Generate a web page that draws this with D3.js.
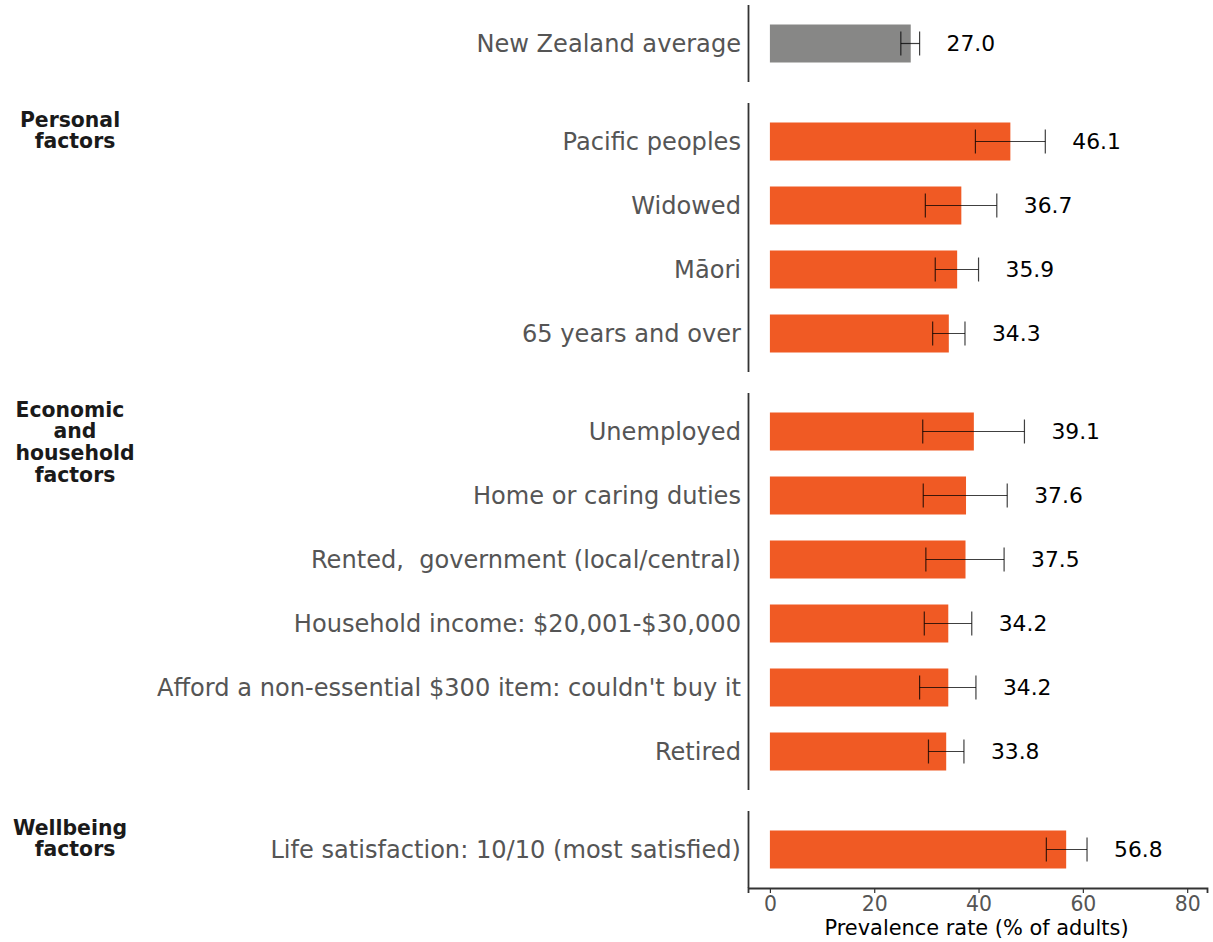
<!DOCTYPE html>
<html>
<head>
<meta charset="utf-8">
<script src="https://cdn.jsdelivr.net/npm/d3@7"></script>
<style>
  html, body { margin: 0; padding: 0; background: #ffffff; }
  svg { display: block; font-family: "DejaVu Sans", sans-serif; }
  .cat { white-space: pre; }
</style>
</head>
<body>
<svg id="chart" width="1213" height="942"></svg>
<script>
// Prevalence rates (% of adults) with 95% confidence intervals, by group
const groupNames = ["", "Personal factors", "Economic and household factors", "Wellbeing factors"];
const groupLabelLines = [[], ["Personal", "factors"], ["Economic", "and", "household", "factors"], ["Wellbeing", "factors"]];

const nzCategories = ["New Zealand average"];
const nzValues = [27.0];
const nzLow = [25.1];
const nzHigh = [28.7];

const personalCategories = ["Pacific peoples", "Widowed", "Māori", "65 years and over"];
const personalValues = [46.1, 36.7, 35.9, 34.3];
const personalLow = [39.4, 29.8, 31.7, 31.2];
const personalHigh = [52.8, 43.5, 40.0, 37.4];

const economicCategories = [
  "Unemployed",
  "Home or caring duties",
  "Rented,  government (local/central)",
  "Household income: $20,001-$30,000",
  "Afford a non-essential $300 item: couldn't buy it",
  "Retired"
];
const economicValues = [39.1, 37.6, 37.5, 34.2, 34.2, 33.8];
const economicLow = [29.3, 29.4, 29.9, 29.6, 28.7, 30.4];
const economicHigh = [48.8, 45.5, 44.9, 38.7, 39.5, 37.2];

const wellbeingCategories = ["Life satisfaction: 10/10 (most satisfied)"];
const wellbeingValues = [56.8];
const wellbeingLow = [53.0];
const wellbeingHigh = [60.8];

const xTicks = [0, 20, 40, 60, 80];

function rows(cats, vals, lo, hi) {
  return cats.map((c, i) => ({ category: c, value: vals[i], low: lo[i], high: hi[i] }));
}

const panels = [
  { name: groupNames[0], lines: groupLabelLines[0], rows: rows(nzCategories, nzValues, nzLow, nzHigh), color: "#878786" },
  { name: groupNames[1], lines: groupLabelLines[1], rows: rows(personalCategories, personalValues, personalLow, personalHigh), color: "#F05A24" },
  { name: groupNames[2], lines: groupLabelLines[2], rows: rows(economicCategories, economicValues, economicLow, economicHigh), color: "#F05A24" },
  { name: groupNames[3], lines: groupLabelLines[3], rows: rows(wellbeingCategories, wellbeingValues, wellbeingLow, wellbeingHigh), color: "#F05A24" }
];

const svg = d3.select("#chart");

const step = 64;          // row pitch
const panelPad = 6.5;     // extra space above/below each panel's rows
const panelGap = 21;      // gap between panel frames
const frameX = 748.5;
const axisY = 888;

const x = d3.scaleLinear().domain([-4.2, 83.8]).range([748, 1207]);

let cursorY = 5;
panels.forEach(p => {
  const h = p.rows.length * step + 2 * panelPad;
  p.top = cursorY;
  p.bottom = cursorY + h;
  p.y = d3.scaleBand()
    .domain(p.rows.map(r => r.category))
    .range([cursorY + panelPad, cursorY + panelPad + p.rows.length * step])
    .paddingInner(26 / 64)
    .paddingOuter(13 / 64);
  cursorY = p.bottom + panelGap;
});
// last panel sits directly on the x axis
panels[panels.length - 1].bottom = axisY;

panels.forEach(p => {
  const g = svg.append("g");

  // panel frame line on the left
  g.append("line")
    .attr("x1", frameX).attr("x2", frameX)
    .attr("y1", p.top).attr("y2", p.bottom)
    .attr("stroke", "#333").attr("stroke-width", 1.8);

  // bars
  g.selectAll("rect.bar").data(p.rows).join("rect")
    .attr("class", "bar")
    .attr("x", x(0))
    .attr("y", d => p.y(d.category))
    .attr("width", d => x(d.value) - x(0))
    .attr("height", p.y.bandwidth())
    .attr("fill", p.color);

  // confidence intervals
  const cap = 12;
  const eb = g.selectAll("g.err").data(p.rows).join("g")
    .attr("class", "err")
    .attr("stroke", "rgba(0,0,0,0.75)").attr("stroke-width", 1.2);
  eb.append("line")
    .attr("x1", d => x(d.low)).attr("x2", d => x(d.high))
    .attr("y1", d => p.y(d.category) + p.y.bandwidth() / 2)
    .attr("y2", d => p.y(d.category) + p.y.bandwidth() / 2);
  eb.append("line")
    .attr("x1", d => x(d.low)).attr("x2", d => x(d.low))
    .attr("y1", d => p.y(d.category) + p.y.bandwidth() / 2 - cap)
    .attr("y2", d => p.y(d.category) + p.y.bandwidth() / 2 + cap);
  eb.append("line")
    .attr("x1", d => x(d.high)).attr("x2", d => x(d.high))
    .attr("y1", d => p.y(d.category) + p.y.bandwidth() / 2 - cap)
    .attr("y2", d => p.y(d.category) + p.y.bandwidth() / 2 + cap);

  // value labels
  g.selectAll("text.val").data(p.rows).join("text")
    .attr("class", "val")
    .attr("x", d => x(d.high) + 27)
    .attr("y", d => p.y(d.category) + p.y.bandwidth() / 2)
    .attr("dy", "0.36em")
    .attr("font-size", 21.8)
    .attr("fill", "#000")
    .text(d => d.value.toFixed(1));

  // category labels
  g.selectAll("text.cat").data(p.rows).join("text")
    .attr("class", "cat")
    .attr("xml:space", "preserve")
    .attr("x", 741)
    .attr("y", d => p.y(d.category) + p.y.bandwidth() / 2)
    .attr("dy", "0.36em")
    .attr("text-anchor", "end")
    .attr("font-size", 24.1)
    .attr("fill", "#555555")
    .text(d => d.category);

  // group heading, one line per tspan
  if (p.lines.length) {
    const t = g.append("text")
      .attr("font-size", 20.4)
      .attr("font-weight", "bold")
      .attr("fill", "#1a1a1a")
      .attr("text-anchor", "middle");
    p.lines.forEach((ln, i) => {
      t.append("tspan")
        .attr("x", i === 0 ? 70 : 75)
        .attr("y", p.top + 23.5 + i * 21.7)
        .text(ln);
    });
  }
});

// x axis
const axis = svg.append("g")
  .attr("transform", `translate(0,${axisY})`)
  .call(d3.axisBottom(x).tickValues(xTicks).tickSizeOuter(0).tickSize(5).tickPadding(4));
axis.select(".domain").attr("stroke", "#333").attr("stroke-width", 1.8);
axis.selectAll(".tick line").attr("stroke", "#333").attr("stroke-width", 1.2);
axis.selectAll(".tick text")
  .attr("font-family", "DejaVu Sans, sans-serif")
  .attr("font-size", 20.4)
  .attr("fill", "#555555");

svg.append("text")
  .attr("x", x(40) - 2)
  .attr("y", 935)
  .attr("text-anchor", "middle")
  .attr("font-size", 20.9)
  .attr("fill", "#000")
  .text("Prevalence rate (% of adults)");
</script>
</body>
</html>
